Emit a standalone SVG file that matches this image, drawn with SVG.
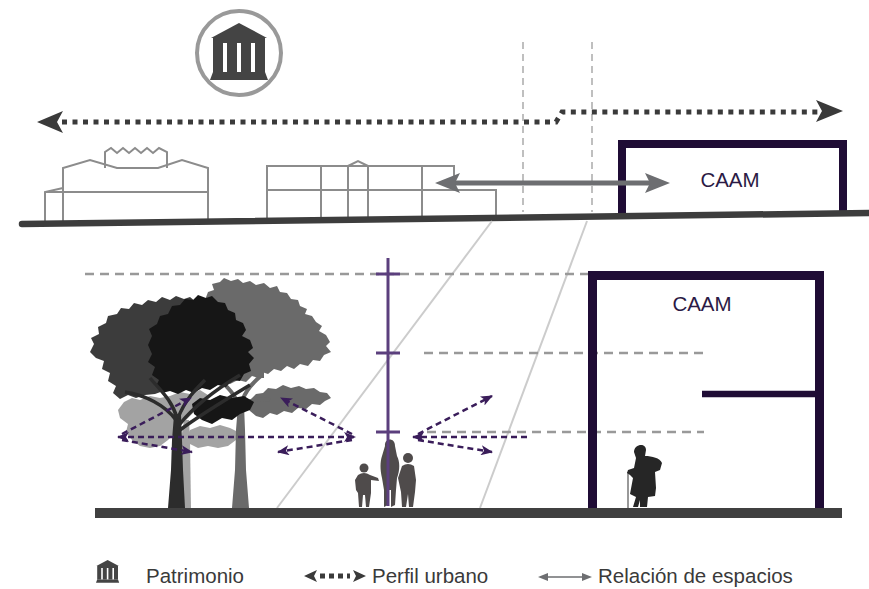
<svg xmlns="http://www.w3.org/2000/svg" width="869" height="589" viewBox="0 0 869 589">
  <style>
    .bld { fill: none; stroke: #8c8c8c; stroke-width: 2; stroke-linejoin: miter; }
    .caam { fill: none; stroke: #1f0c35; stroke-linejoin: miter; }
    .vguide { fill: none; stroke: #ababab; stroke-width: 1.5; stroke-dasharray: 7 5; }
    .hguide { fill: none; stroke: #999999; stroke-width: 2.5; stroke-dasharray: 9 6; }
    .proj { fill: none; stroke: #cccccc; stroke-width: 2; }
    .perfil { fill: none; stroke: #3a3a3a; stroke-width: 5; stroke-dasharray: 5 5.5; }
    .view { fill: none; stroke: #3a1d5a; stroke-width: 2.5; stroke-dasharray: 6 4; }
    .label { font-family: "Liberation Sans", Arial, sans-serif; fill: #2b1a45; font-size: 20.5px; text-anchor: middle; }
    .legend { font-family: "Liberation Sans", Arial, sans-serif; fill: #3a3a3a; font-size: 20.5px; }
  </style>
  <defs>
    <!-- heritage temple glyph, local box 0..58 x 0..57 -->
    <g id="temple">
      <polygon points="29,0 1,15 57,15"/>
      <rect x="3" y="15" width="52" height="5"/>
      <rect x="3" y="20" width="10" height="29"/>
      <rect x="17" y="20" width="10" height="29"/>
      <rect x="31" y="20" width="10" height="29"/>
      <rect x="45" y="20" width="10" height="29"/>
      <polygon points="3,49 55,49 58,57 0,57"/>
    </g>
    <marker id="vhead" viewBox="0 0 12 10" refX="11" refY="5" markerWidth="12" markerHeight="10" markerUnits="userSpaceOnUse" orient="auto-start-reverse">
      <path d="M0,0 L12,5 L0,10 L3,5 Z" fill="#3a1d5a"/>
    </marker>
  </defs>

  <!-- ===== Upper elevation ===== -->
  <g id="heritage-icon">
    <circle cx="239" cy="53" r="42" fill="none" stroke="#999999" stroke-width="4"/>
    <use href="#temple" transform="translate(210,23)" fill="#444444"/>
  </g>

  <g id="guides-vertical">
    <line class="vguide" x1="523" y1="42" x2="523" y2="212"/>
    <line class="vguide" x1="592" y1="42" x2="592" y2="212"/>
  </g>

  <g id="heritage-building" class="bld">
    <path d="M45,223 V192 L63,188"/>
    <path d="M45,192 H208"/>
    <path d="M63,223 V168 L90,160 L117,168 H158 L182,160 L208,168 V222"/>
    <path d="M105,168 V152 L111,148 L117,153 L123,148 L129,153 L135,148 L141,153 L147,148 L153,153 L159,148 L167,152 V168"/>
  </g>

  <g id="neighbour-building" class="bld">
    <path d="M267,221 V166 H454 V190"/>
    <path d="M267,190 H496 V218"/>
    <path d="M321,166 V220 M348,166 V220 M368,166 V219 M422,166 V219"/>
    <path d="M348,166 L358,161 L368,166"/>
  </g>

  <g id="caam-upper">
    <path class="caam" stroke-width="8" d="M622,215 V144 H843 V213"/>
    <text class="label" x="730" y="187">CAAM</text>
  </g>

  <g id="connectors">
    <!-- urban profile -->
    <path class="perfil" d="M62,122 H556 L562,112 H818"/>
    <path d="M37,122 L63,111 L57,122 L63,133 Z" fill="#3a3a3a"/>
    <path d="M843,111 L816,100 L822,111 L816,122 Z" fill="#3a3a3a"/>
    <!-- space relation -->
    <line x1="454" y1="183" x2="651" y2="183" stroke="#6d6e71" stroke-width="5"/>
    <path d="M435,183 L460,173 L455,183 L460,193 Z" fill="#6d6e71"/>
    <path d="M670,183 L645,173 L650,183 L645,193 Z" fill="#6d6e71"/>
  </g>

  <path id="ground-upper" d="M22,224 L869,213" fill="none" stroke="#3d3d3d" stroke-width="6.5" stroke-linecap="round"/>

  <!-- ===== Lower section ===== -->
  <g id="projection-lines">
    <line class="proj" x1="492" y1="221" x2="277" y2="508"/>
    <line class="proj" x1="587" y1="221" x2="480" y2="508"/>
  </g>

  <g id="guides-horizontal">
    <line class="hguide" x1="85" y1="274" x2="590" y2="274"/>
    <line class="hguide" x1="424" y1="353" x2="704" y2="353"/>
    <line class="hguide" x1="427" y1="432" x2="704" y2="432"/>
  </g>

  <g id="trees">
    <!-- light back tree -->
    <g fill="#a3a3a3">
      <path d="M118,410 L124,402 L132,398 L140,400 L150,396 L160,398 L170,396 L180,392 L190,394 L200,390 L208,395 L206,402 L198,408 L190,416 L182,424 L176,432 L168,440 L160,446 L150,448 L140,446 L132,440 L126,432 L128,424 L120,418 Z"/>
      <path d="M190,430 L200,426 L210,428 L220,425 L230,428 L238,432 L236,440 L228,446 L218,448 L208,446 L198,448 L190,444 L186,438 Z"/>
      <path d="M180,508 L181,440 L184,420 L189,420 L190,440 L191,508 Z"/>
    </g>
    <!-- mid-grey tree -->
    <g fill="#6a6a6a">
      <path d="M205,300 L208,292 L214,290 L212,284 L220,282 L224,278 L231,281 L238,279 L243,283 L250,281 L256,285 L264,283 L270,288 L277,286 L280,292 L287,293 L291,299 L298,300 L300,306 L307,309 L305,314 L312,316 L316,322 L322,326 L319,331 L326,335 L330,342 L326,346 L331,352 L324,355 L320,361 L313,360 L308,366 L300,364 L294,369 L287,366 L281,371 L274,369 L268,374 L262,372 L258,378 L252,376 L246,382 L238,380 L230,384 L222,380 L214,384 L206,378 L200,370 L198,350 L200,330 L202,312 Z"/>
      <path d="M250,400 L256,394 L263,393 L268,388 L276,389 L283,385 L291,388 L299,386 L306,389 L314,388 L320,392 L327,393 L331,398 L325,401 L320,405 L312,404 L306,409 L298,408 L292,413 L284,411 L277,415 L270,413 L263,418 L256,416 L250,411 L246,406 Z"/>
      <path d="M232,508 L235,470 L236,430 L238,405 L244,405 L245,430 L246,470 L249,508 Z"/>
      <path d="M240,410 C242,395 250,385 262,375 M240,408 C236,395 228,388 220,380 M241,406 C250,400 260,398 270,400 M262,378 L262,350" fill="none" stroke="#6a6a6a" stroke-width="4"/>
    </g>
    <!-- dark tree -->
    <path fill="#3c3c3c" d="M90,352 L94,344 L91,338 L99,334 L98,327 L106,323 L108,316 L117,314 L121,308 L129,309 L134,303 L142,305 L148,300 L156,302 L162,297 L170,300 L176,296 L184,299 L190,297 L196,302 L202,310 L204,325 L200,345 L195,362 L188,375 L178,385 L166,390 L155,394 L145,395 L136,398 L128,395 L120,399 L113,393 L116,386 L108,381 L110,373 L102,369 L104,361 L96,358 Z"/>
    <!-- darkest tree -->
    <g fill="#161616">
      <path d="M148,345 L152,336 L149,329 L157,324 L160,316 L168,314 L172,306 L180,305 L185,299 L193,300 L198,295 L206,298 L212,296 L218,302 L225,303 L228,310 L235,313 L236,320 L243,323 L246,330 L242,336 L250,340 L253,348 L248,352 L254,358 L249,364 L251,371 L244,374 L240,381 L232,380 L226,387 L218,385 L210,390 L202,388 L194,393 L186,390 L178,394 L170,391 L162,393 L156,386 L159,380 L152,375 L155,367 L148,362 L152,354 Z"/>
      <path d="M192,404 L200,398 L210,400 L220,395 L232,398 L244,396 L254,402 L250,410 L240,414 L232,420 L222,418 L212,424 L202,420 L194,414 Z"/>
    </g>
    <g fill="#2c2c2c">
      <path d="M168,508 L171,470 L172,440 L174,415 L181,415 L182,440 L183,470 L185,508 Z"/>
      <path d="M176,420 C165,405 145,395 125,392 M177,418 C172,400 160,390 150,378 M178,418 C185,400 195,390 205,380 M179,425 C195,405 215,390 240,375 M180,430 C200,415 225,400 250,385" fill="none" stroke="#2c2c2c" stroke-width="3.5"/>
    </g>
  </g>

  <g id="family" fill="#4f4b4b">
    <path d="M385,446 C384,438 395,437 395,446 L397,456 C400,462 400,470 397,478 L396,490 L395,505 L391,507 L391,490 L389,490 L388,505 L384,507 L384,490 L382,478 C380,470 380,462 382,456 Z"/>
    <circle cx="364" cy="468" r="4.5"/>
    <path d="M358,475 Q364,471 370,475 L378,478 L379,481 L371,480 L371,493 L369,507 L366,507 L365,495 L363,495 L362,507 L359,507 L358,493 L356,490 L355,480 Z"/>
    <circle cx="408" cy="458" r="5"/>
    <path d="M402,466 Q408,462 414,466 L416,480 L415,492 L413,507 L409,507 L408,494 L406,507 L402,507 L401,492 L398,478 Z"/>
  </g>

  <g id="height-scale" stroke="#5b3f7d" stroke-width="3">
    <line x1="388" y1="258" x2="388" y2="506"/>
    <line x1="376" y1="274" x2="400" y2="274"/>
    <line x1="376" y1="353" x2="400" y2="353"/>
    <line x1="376" y1="432" x2="400" y2="432"/>
  </g>

  <g id="caam-lower">
    <path class="caam" stroke-width="9" d="M592.5,508 V275.5 H819.5 V508"/>
    <line x1="702" y1="394" x2="819" y2="394" stroke="#1f0c35" stroke-width="6.5"/>
    <text class="label" x="702" y="311">CAAM</text>
  </g>

  <g id="elder">
    <line x1="628" y1="472" x2="628" y2="508" stroke="#777777" stroke-width="1.5"/>
    <path fill="#262626" d="M634,452 C634,444 646,442 646,450 L645,456 C652,456 660,458 662,463 L660,470 L655,472 L656,488 L655,496 L648,497 L647,507 L640,507 L640,500 L638,507 L633,507 L636,497 L630,494 L633,478 L630,475 L627,473 L628,470 L634,468 L636,458 Z"/>
  </g>

  <g id="view-arrows">
    <line class="view" x1="118" y1="437" x2="355" y2="437" marker-start="url(#vhead)" marker-end="url(#vhead)"/>
    <line class="view" x1="122" y1="434" x2="191" y2="398" marker-end="url(#vhead)"/>
    <line class="view" x1="122" y1="440" x2="192" y2="452" marker-end="url(#vhead)"/>
    <line class="view" x1="352" y1="434" x2="281" y2="398" marker-end="url(#vhead)"/>
    <line class="view" x1="352" y1="440" x2="278" y2="452" marker-end="url(#vhead)"/>
    <line class="view" x1="527" y1="437" x2="413" y2="437" marker-end="url(#vhead)"/>
    <line class="view" x1="418" y1="434" x2="492" y2="396" marker-end="url(#vhead)"/>
    <line class="view" x1="418" y1="440" x2="492" y2="452" marker-end="url(#vhead)"/>
  </g>

  <rect id="ground-lower" x="95" y="508" width="747" height="10" fill="#404040"/>

  <!-- ===== Legend ===== -->
  <g id="legend">
    <use href="#temple" transform="translate(96,560) scale(0.4)" fill="#444444"/>
    <text class="legend" x="146" y="583">Patrimonio</text>
    <path d="M304,576 L317,570 L314,576 L317,582 Z" fill="#3a3a3a"/>
    <line x1="320" y1="576" x2="350" y2="576" stroke="#3a3a3a" stroke-width="5" stroke-dasharray="5 4"/>
    <path d="M366,576 L353,570 L356,576 L353,582 Z" fill="#3a3a3a"/>
    <text class="legend" x="372" y="583">Perfil urbano</text>
    <line x1="544" y1="577" x2="586" y2="577" stroke="#6d6e71" stroke-width="1.5"/>
    <path d="M538,577 L548,573 L548,581 Z" fill="#6d6e71"/>
    <path d="M592,577 L582,573 L582,581 Z" fill="#6d6e71"/>
    <text class="legend" x="598" y="583">Relación de espacios</text>
  </g>
</svg>
